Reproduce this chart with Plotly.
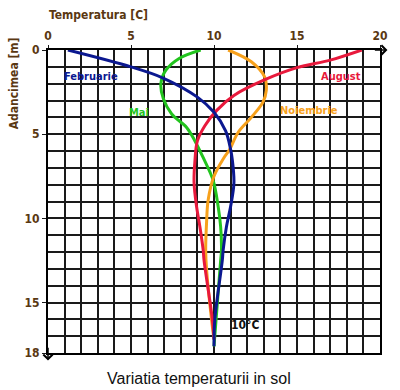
import plotly.graph_objects as go

# ---- data ----
feb_depth = [0, 1.0, 1.65, 2.8, 3.7, 4.8, 5.9, 6.5, 7.9, 9.3, 10.5, 11.9, 12.5, 16.0, 17.6]
feb_temp = [1.2, 5.0, 6.9, 9.0, 10.0, 10.7, 11.0, 11.1, 11.2, 11.0, 10.75, 10.55, 10.5, 10.05, 10.0]

mai_depth = [0, 0.5, 1.2, 2.0, 2.9, 3.8, 4.6, 5.4, 6.4, 7.75, 9.3, 10.5, 11.9, 12.5, 17.6]
mai_temp = [9.2, 7.9, 7.1, 6.8, 6.95, 7.45, 8.35, 8.85, 9.35, 9.95, 10.25, 10.4, 10.45, 10.4, 10.0]

aug_depth = [0, 0.6, 1.05, 1.75, 2.7, 3.6, 4.5, 5.4, 6.6, 7.9, 9.3, 10.5, 11.9, 12.5, 16.0, 17.2]
aug_temp = [18.9, 17.0, 15.0, 13.1, 11.2, 10.15, 9.45, 9.0, 8.85, 8.8, 8.95, 9.15, 9.35, 9.4, 9.9, 10.0]

noi_depth = [0, 0.7, 1.6, 2.4, 3.1, 4.0, 4.9, 5.9, 6.4, 7.5, 8.9, 10.3, 11.9, 13.0, 16.0, 17.2]
noi_temp = [10.85, 12.25, 13.05, 13.15, 12.95, 12.25, 11.45, 10.95, 10.6, 10.0, 9.65, 9.55, 9.5, 9.55, 9.85, 10.0]

x_ticks = [0, 5, 10, 15, 20]
y_ticks = [0, 5, 10, 15, 18]

series = [
    ("Mai", mai_temp, mai_depth, "#22c41e"),
    ("Noiembrie", noi_temp, noi_depth, "#f7a11c"),
    ("August", aug_temp, aug_depth, "#e8193c"),
    ("Februarie", feb_temp, feb_depth, "#0b1890"),
]

BROWN = "#5a3812"
NARROW = "Liberation Sans Narrow, DejaVu Sans Condensed, Arial Narrow, sans-serif"

fig = go.Figure()
for name, t, d, c in series:
    fig.add_trace(go.Scatter(x=t, y=d, mode="lines", name=name,
                             line=dict(color=c, width=3, shape="spline", smoothing=1.0),
                             showlegend=False, hoverinfo="skip"))

grid_col = "#1a1a1a"
fig.update_xaxes(range=[0, 20], side="top", tickvals=x_ticks,
                 ticks="outside", ticklen=3, tickcolor=grid_col,
                 showgrid=True, gridcolor=grid_col, gridwidth=1.5,
                 minor=dict(dtick=1, tick0=0, showgrid=True, gridcolor=grid_col, gridwidth=1.5),
                 showline=True, mirror=True, linecolor="#000", linewidth=2,
                 zeroline=False,
                 tickfont=dict(family=NARROW, size=12, color=BROWN, weight="bold"))
fig.update_yaxes(range=[18, 0], tickvals=y_ticks,
                 ticks="outside", ticklen=4, tickcolor=grid_col,
                 showgrid=True, gridcolor=grid_col, gridwidth=1.5,
                 minor=dict(dtick=1, tick0=0, showgrid=True, gridcolor=grid_col, gridwidth=1.5),
                 showline=True, mirror=True, linecolor="#000", linewidth=2,
                 zeroline=False,
                 tickfont=dict(family=NARROW, size=12, color=BROWN, weight="bold"))

lab = dict(family=NARROW, size=11, weight="bold")
annots = [
    dict(x=2.6, y=1.57, text="Februarie", font=dict(color="#0b1890", **lab)),
    dict(x=5.5, y=3.7, text="Mai", font=dict(color="#22c41e", **lab)),
    dict(x=17.65, y=1.57, text="August", font=dict(color="#e8193c", **lab)),
    dict(x=15.7, y=3.6, text="Noiembrie", font=dict(color="#f7a11c", **lab)),
    dict(x=11.85, y=16.35, text="10°C", font=dict(color="#111", family=NARROW, size=12, weight="bold")),
]
for a in annots:
    fig.add_annotation(xref="x", yref="y", showarrow=False, **a)

# axis titles
fig.add_annotation(xref="paper", yref="paper", x=-0.003, y=1.1155, xanchor="left", yanchor="middle",
                   text="Temperatura [C]", showarrow=False,
                   font=dict(family=NARROW, size=12, color=BROWN, weight="bold"))
fig.add_annotation(xref="paper", yref="paper", x=-0.1015, y=0.891, xanchor="center", yanchor="middle",
                   text="Adancimea [m]", textangle=-90, showarrow=False,
                   font=dict(family=NARROW, size=12, color=BROWN, weight="bold"))
# chart title at the bottom
fig.add_annotation(xref="paper", yref="paper", x=0.455, y=-0.083, xanchor="center", yanchor="middle",
                   text="Variatia temperaturii in sol", showarrow=False,
                   font=dict(family="Liberation Sans, Arial, sans-serif", size=16, color="#111"))

# axis arrows
fig.add_annotation(xref="x", yref="y", axref="x", ayref="y", x=20.45, y=0, ax=19.6, ay=0,
                   showarrow=True, arrowhead=4, arrowsize=1.2, arrowwidth=1.5, arrowcolor="#000", text="")
fig.add_annotation(xref="x", yref="y", axref="x", ayref="y", x=0, y=18.45, ax=0, ay=17.6,
                   showarrow=True, arrowhead=4, arrowsize=1.2, arrowwidth=1.5, arrowcolor="#000", text="")

fig.update_layout(width=400, height=390, margin=dict(l=48, r=17, t=50, b=37),
                  paper_bgcolor="white", plot_bgcolor="white")

fig.write_html("out.html", config={"displayModeBar": False})

# remove the default page margin so the figure sits at the window's top-left corner
with open("out.html", encoding="utf-8") as fh:
    html = fh.read()
html = html.replace("<head>", "<head><style>html,body{margin:0;padding:0;overflow:hidden;}</style>", 1)
with open("out.html", "w", encoding="utf-8") as fh:
    fh.write(html)
